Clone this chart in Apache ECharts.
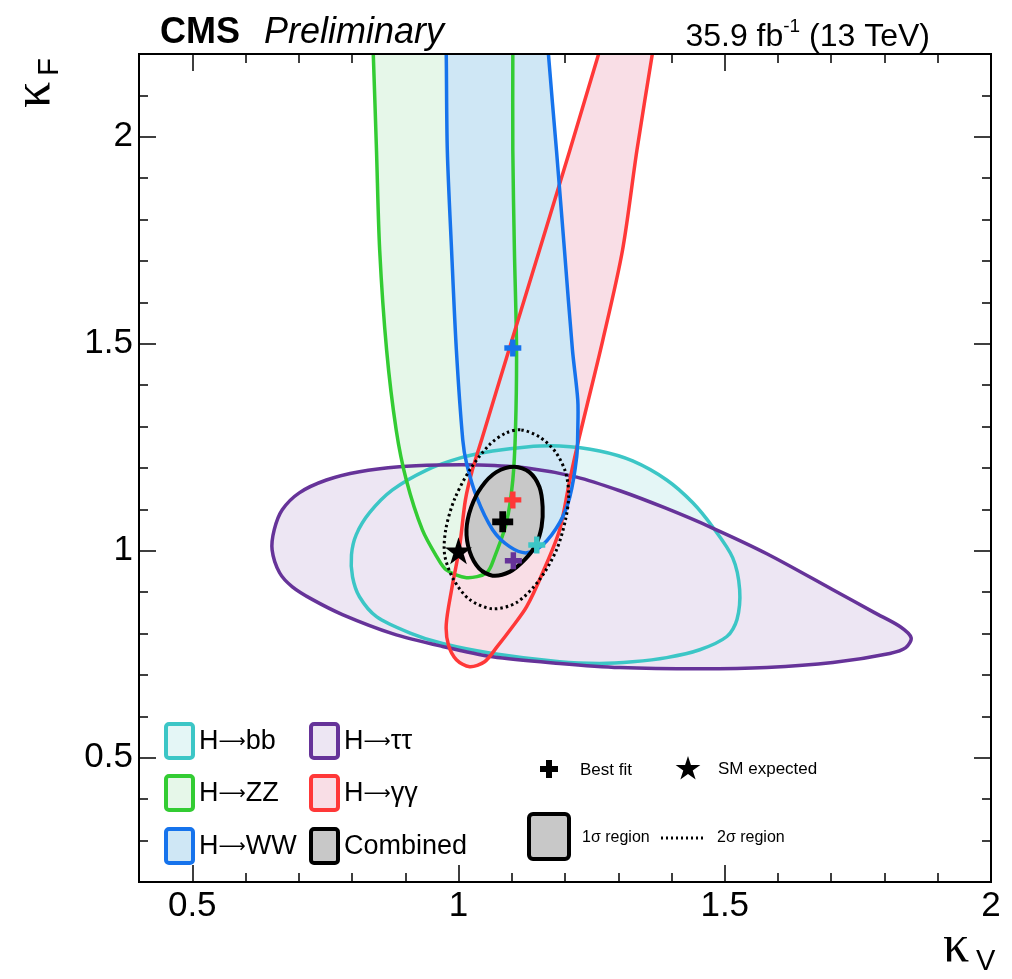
<!DOCTYPE html>
<html>
<head>
<meta charset="utf-8">
<script src="https://cdn.jsdelivr.net/npm/echarts@6/dist/echarts.min.js"></script>
<style>
html,body{margin:0;padding:0;background:#fff;}
#chart{width:1012px;height:979px;}
</style>
</head>
<body>
<div id="chart"></div>
<script>
// ---------- data (kappa_V, kappa_F) ----------
const xMajorTicks = [0.5, 1, 1.5, 2];
const yMajorTicks = [0.5, 1, 1.5, 2];

const contourBB = [[0.799,0.990],[0.808,1.039],[0.833,1.092],[0.876,1.147],[0.940,1.195],[1.002,1.224],[1.064,1.241],[1.128,1.251],[1.190,1.253],[1.265,1.241],[1.327,1.217],[1.391,1.171],[1.440,1.116],[1.477,1.058],[1.515,0.983],[1.528,0.906],[1.523,0.834],[1.504,0.793],[1.453,0.761],[1.391,0.742],[1.327,0.732],[1.265,0.728],[1.190,0.732],[1.064,0.752],[0.970,0.776],[0.908,0.802],[0.846,0.841],[0.814,0.889],[0.801,0.937]];

const contourTauTau = [[0.650,1.002],[0.654,1.051],[0.669,1.099],[0.701,1.140],[0.752,1.171],[0.814,1.191],[0.889,1.203],[0.964,1.207],[1.039,1.207],[1.128,1.200],[1.222,1.178],[1.303,1.145],[1.387,1.104],[1.477,1.055],[1.579,0.993],[1.703,0.906],[1.782,0.850],[1.829,0.817],[1.850,0.790],[1.840,0.766],[1.810,0.752],[1.703,0.730],[1.579,0.718],[1.453,0.715],[1.303,0.718],[1.190,0.728],[1.064,0.744],[0.970,0.769],[0.876,0.800],[0.782,0.846],[0.726,0.882],[0.688,0.913],[0.664,0.947]];

const contourZZ = [[0.838,2.256],[0.840,2.198],[0.846,1.967],[0.852,1.726],[0.865,1.485],[0.883,1.292],[0.902,1.171],[0.932,1.051],[0.959,0.986],[0.977,0.954],[1.015,0.935],[1.053,0.947],[1.068,0.986],[1.090,1.068],[1.102,1.171],[1.107,1.292],[1.109,1.485],[1.105,1.726],[1.102,1.967],[1.102,2.198],[1.102,2.256]];

const contourWW = [[0.976,2.256],[0.977,2.198],[0.979,1.967],[0.987,1.726],[0.996,1.485],[1.008,1.268],[1.015,1.212],[1.034,1.130],[1.064,1.051],[1.096,1.010],[1.128,0.995],[1.158,1.014],[1.190,1.068],[1.209,1.130],[1.222,1.227],[1.224,1.292],[1.224,1.364],[1.214,1.485],[1.199,1.726],[1.184,1.967],[1.169,2.198],[1.167,2.256]];

const contourGamGam = [[1.282,2.280],[1.265,2.208],[1.209,1.967],[1.152,1.726],[1.102,1.516],[1.045,1.275],[1.026,1.195],[1.013,1.123],[1.002,1.010],[0.987,0.906],[0.977,0.822],[0.981,0.773],[0.996,0.737],[1.021,0.720],[1.049,0.732],[1.073,0.769],[1.100,0.814],[1.128,0.865],[1.158,0.947],[1.190,1.051],[1.209,1.171],[1.227,1.275],[1.271,1.509],[1.308,1.726],[1.335,1.967],[1.365,2.208],[1.374,2.280]];

const contourComb1s = [[1.105,1.203],[1.133,1.190],[1.152,1.154],[1.158,1.106],[1.156,1.058],[1.145,1.014],[1.124,0.978],[1.096,0.949],[1.064,0.940],[1.039,0.957],[1.021,0.998],[1.015,1.051],[1.024,1.106],[1.043,1.154],[1.071,1.190]];

const contourComb2s = [[1.118,1.292],[1.152,1.275],[1.182,1.239],[1.201,1.190],[1.207,1.135],[1.201,1.075],[1.184,1.002],[1.152,0.930],[1.109,0.875],[1.064,0.860],[1.021,0.882],[0.991,0.930],[0.974,0.990],[0.976,1.051],[0.992,1.123],[1.021,1.195],[1.058,1.256],[1.090,1.285]];

const bestFitBB = [1.147, 1.014];
const bestFitTauTau = [1.103, 0.976];
const bestFitWW = [1.102, 1.490];
const bestFitGamGam = [1.102, 1.123];
const bestFitComb = [1.083, 1.070];
const smExpected = [1.0, 1.0];

// ---------- styling ----------
const C = {
  bb:   {line:'#3cc6c6', fill:'#e4f6f6'},
  tt:   {line:'#663399', fill:'#ede6f3'},
  zz:   {line:'#33cc33', fill:'#e6f7e9'},
  gg:   {line:'#ff3838', fill:'#f9dee6'},
  ww:   {line:'#1673ec', fill:'#cfe7f5'},
  comb: {line:'#000000', fill:'#c8c8c8'}
};
const FONT = '"Liberation Sans", Arial, Helvetica, sans-serif';
const SERIF = '"Liberation Serif", "DejaVu Serif", serif';
const PLUS = 'path://M34,0H66V34H100V66H66V100H34V66H0V34H34Z';
const STAR = 'path://M50,0L61.2,34.5L97.6,34.5L68.2,55.9L79.4,90.5L50,69.1L20.6,90.5L31.8,55.9L2.4,34.5L38.8,34.5Z';

function polySeries(name, pts, fill, stroke, width, dash) {
  return {
    type: 'custom', name: name, clip: true, silent: true,
    data: pts,
    renderItem: function (params, api) {
      if (params.dataIndex !== 0) return null;
      const p = pts.map(q => api.coord(q));
      return {
        type: 'polygon',
        shape: {points: p, smooth: 0.3},
        style: {fill: fill || 'none', stroke: stroke || 'none', lineWidth: width || 0, lineDash: dash || null, lineJoin:'round'}
      };
    }
  };
}
function markSeries(pt, color, size, symbol) {
  return {type:'scatter', data:[pt], symbol: symbol, symbolSize: size, itemStyle:{color: color, opacity:1}, z: 10, silent: true};
}

const series = [
  polySeries('bbFill', contourBB, C.bb.fill),
  polySeries('ttFill', contourTauTau, C.tt.fill),
  polySeries('zzFill', contourZZ, C.zz.fill),
  polySeries('ggFill', contourGamGam, C.gg.fill),
  polySeries('wwFill', contourWW, C.ww.fill),
  polySeries('combFill', contourComb1s, C.comb.fill),
  polySeries('bbLine', contourBB, null, C.bb.line, 3.5),
  polySeries('ttLine', contourTauTau, null, C.tt.line, 3.5),
  polySeries('zzLine', contourZZ, null, C.zz.line, 3.5),
  polySeries('ggLine', contourGamGam, null, C.gg.line, 3.5),
  polySeries('wwLine', contourWW, null, C.ww.line, 3.5),
  polySeries('comb2s', contourComb2s, null, '#000', 3, [2.5, 3]),
  polySeries('combLine', contourComb1s, null, C.comb.line, 4),
  markSeries(bestFitBB, C.bb.line, 17, PLUS),
  markSeries(bestFitTauTau, C.tt.line, 17, PLUS),
  markSeries(bestFitWW, C.ww.line, 17, PLUS),
  markSeries(bestFitGamGam, C.gg.line, 17, PLUS),
  markSeries(bestFitComb, '#000', 21, PLUS),
  markSeries(smExpected, '#000', 27, STAR)
];

function axisSet(dim, major, min, max) {
  const isX = dim === 'x';
  const base = {type:'value', min:min, max:max, splitLine:{show:false}, axisLine:{show:false}};
  const posA = isX ? 'bottom' : 'left';
  const posB = isX ? 'top' : 'right';
  return [
    Object.assign({}, base, {position: posA,
      axisTick:{show:true, inside:true, length:17, customValues: major, lineStyle:{color:'#000', width:1.5}},
      axisLabel:{show:true, customValues: major, color:'#000', fontSize:35, fontFamily: FONT, margin: isX ? 7 : 6}}),
    Object.assign({}, base, {position: posA, interval:0.1,
      axisTick:{show:true, inside:true, length:9, lineStyle:{color:'#000', width:1.5}},
      axisLabel:{show:false}}),
    Object.assign({}, base, {position: posB,
      axisTick:{show:true, inside:true, length:17, customValues: major, lineStyle:{color:'#000', width:1.5}},
      axisLabel:{show:false}}),
    Object.assign({}, base, {position: posB, interval:0.1,
      axisTick:{show:true, inside:true, length:9, lineStyle:{color:'#000', width:1.5}},
      axisLabel:{show:false}})
  ];
}

function plusPts(cx, cy, s, t) {
  const h = s / 2, a = t / 2;
  return [[cx-a,cy-h],[cx+a,cy-h],[cx+a,cy-a],[cx+h,cy-a],[cx+h,cy+a],[cx+a,cy+a],[cx+a,cy+h],[cx-a,cy+h],[cx-a,cy+a],[cx-h,cy+a],[cx-h,cy-a],[cx-a,cy-a]];
}
function starPts(cx, cy, r) {
  const out = [];
  for (let i = 0; i < 10; i++) {
    const rr = i % 2 === 0 ? r : r * 0.382;
    const ang = -Math.PI / 2 + i * Math.PI / 5;
    out.push([cx + rr * Math.cos(ang), cy + rr * Math.sin(ang)]);
  }
  return out;
}

// legend graphics
const legendRows = [
  {pre:'H', post:'bb', c:C.bb, col:0, row:0},
  {pre:'H', post:'ZZ', c:C.zz, col:0, row:1},
  {pre:'H', post:'WW', c:C.ww, col:0, row:2},
  {pre:'H', post:'\u03c4\u03c4', c:C.tt, col:1, row:0},
  {pre:'H', post:'\u03b3\u03b3', c:C.gg, col:1, row:1},
  {pre:'Combined', post:null, c:C.comb, col:1, row:2}
];
const graphics = [];
const rowY = [741, 793, 846];
const colX = [166, 311];
legendRows.forEach(r => {
  const x = colX[r.col], y = rowY[r.row];
  graphics.push({type:'rect', x:x, y:y-17, shape:{width:27, height:34, r:3},
    style:{fill:r.c.fill, stroke:r.c.line, lineWidth:4}, z:100});
  const txt = r.post === null ? '{t|' + r.pre + '}' : '{t|' + r.pre + '}{a|\u27f6}{t|' + r.post + '}';
  graphics.push({type:'text', x:x+33, y:y+1, style:{text:txt, verticalAlign:'middle', align:'left',
    rich:{t:{fontSize:27, fontFamily:FONT, fill:'#000', lineHeight:32},
          a:{fontSize:19, fontFamily:'"DejaVu Sans", sans-serif', fill:'#000', lineHeight:32}}}, z:100});
});
// second legend
graphics.push({type:'polygon', shape:{points: plusPts(549, 769, 18, 6)}, style:{fill:'#000'}, z:100});
graphics.push({type:'text', x:580, y:770, style:{text:'Best fit', fontSize:17, fontFamily:FONT, fill:'#000', verticalAlign:'middle'}, z:100});
graphics.push({type:'polygon', shape:{points: starPts(688, 769, 13)}, style:{fill:'#000'}, z:100});
graphics.push({type:'text', x:718, y:769, style:{text:'SM expected', fontSize:17, fontFamily:FONT, fill:'#000', verticalAlign:'middle'}, z:100});
graphics.push({type:'rect', x:529, y:814, shape:{width:40, height:45, r:4}, style:{fill:'#c8c8c8', stroke:'#000', lineWidth:4}, z:100});
graphics.push({type:'text', x:582, y:838, style:{text:'1\u03c3 region', fontSize:16, fontFamily:FONT, fill:'#000', verticalAlign:'middle'}, z:100});
graphics.push({type:'line', shape:{x1:661, y1:838, x2:706, y2:838}, style:{stroke:'#000', lineWidth:3, lineDash:[2,3]}, z:100});
graphics.push({type:'text', x:717, y:838, style:{text:'2\u03c3 region', fontSize:16, fontFamily:FONT, fill:'#000', verticalAlign:'middle'}, z:100});
// header
graphics.push({type:'text', x:160, y:33, style:{text:'CMS', fontSize:36, fontWeight:'bold', fontFamily:FONT, fill:'#000', verticalAlign:'middle'}, z:100});
graphics.push({type:'text', x:264, y:33, style:{text:'Preliminary', fontSize:36, fontStyle:'italic', fontFamily:FONT, fill:'#000', verticalAlign:'middle'}, z:100});
graphics.push({type:'text', x:930, y:35, style:{
  text:'{n|35.9 fb}{s|-1}{n| (13 TeV)}', align:'right', verticalAlign:'middle',
  rich:{n:{fontSize:32, fontFamily:FONT, fill:'#000', lineHeight:36, verticalAlign:'bottom'},
        s:{fontSize:19, fontFamily:FONT, fill:'#000', lineHeight:36, verticalAlign:'top'}}}, z:100});
// axis titles
graphics.push({type:'text', x:943, y:947, style:{text:'\u03ba', fontSize:52, fontFamily:SERIF, fill:'#000', verticalAlign:'middle'}, z:100});
graphics.push({type:'text', x:976, y:962, style:{text:'V', fontSize:29, fontFamily:FONT, fill:'#000', verticalAlign:'middle'}, z:100});
graphics.push({type:'text', x:35, y:95, rotation:Math.PI/2, style:{text:'\u03ba', fontSize:52, fontFamily:SERIF, fill:'#000', verticalAlign:'middle', align:'center'}, z:100});
graphics.push({type:'text', x:50, y:67, rotation:Math.PI/2, style:{text:'F', fontSize:29, fontFamily:FONT, fill:'#000', verticalAlign:'middle', align:'center'}, z:100});

const chart = echarts.init(document.getElementById('chart'), null, {renderer:'canvas'});
chart.setOption({
  animation: false,
  backgroundColor: '#fff',
  grid: {left:139, top:54, right:21, bottom:97, show:true, borderColor:'#000', borderWidth:2, backgroundColor:'transparent', z:5},
  xAxis: axisSet('x', xMajorTicks, 0.4, 2.0),
  yAxis: axisSet('y', yMajorTicks, 0.2, 2.2),
  series: series,
  graphic: graphics
});
</script>
</body>
</html>
